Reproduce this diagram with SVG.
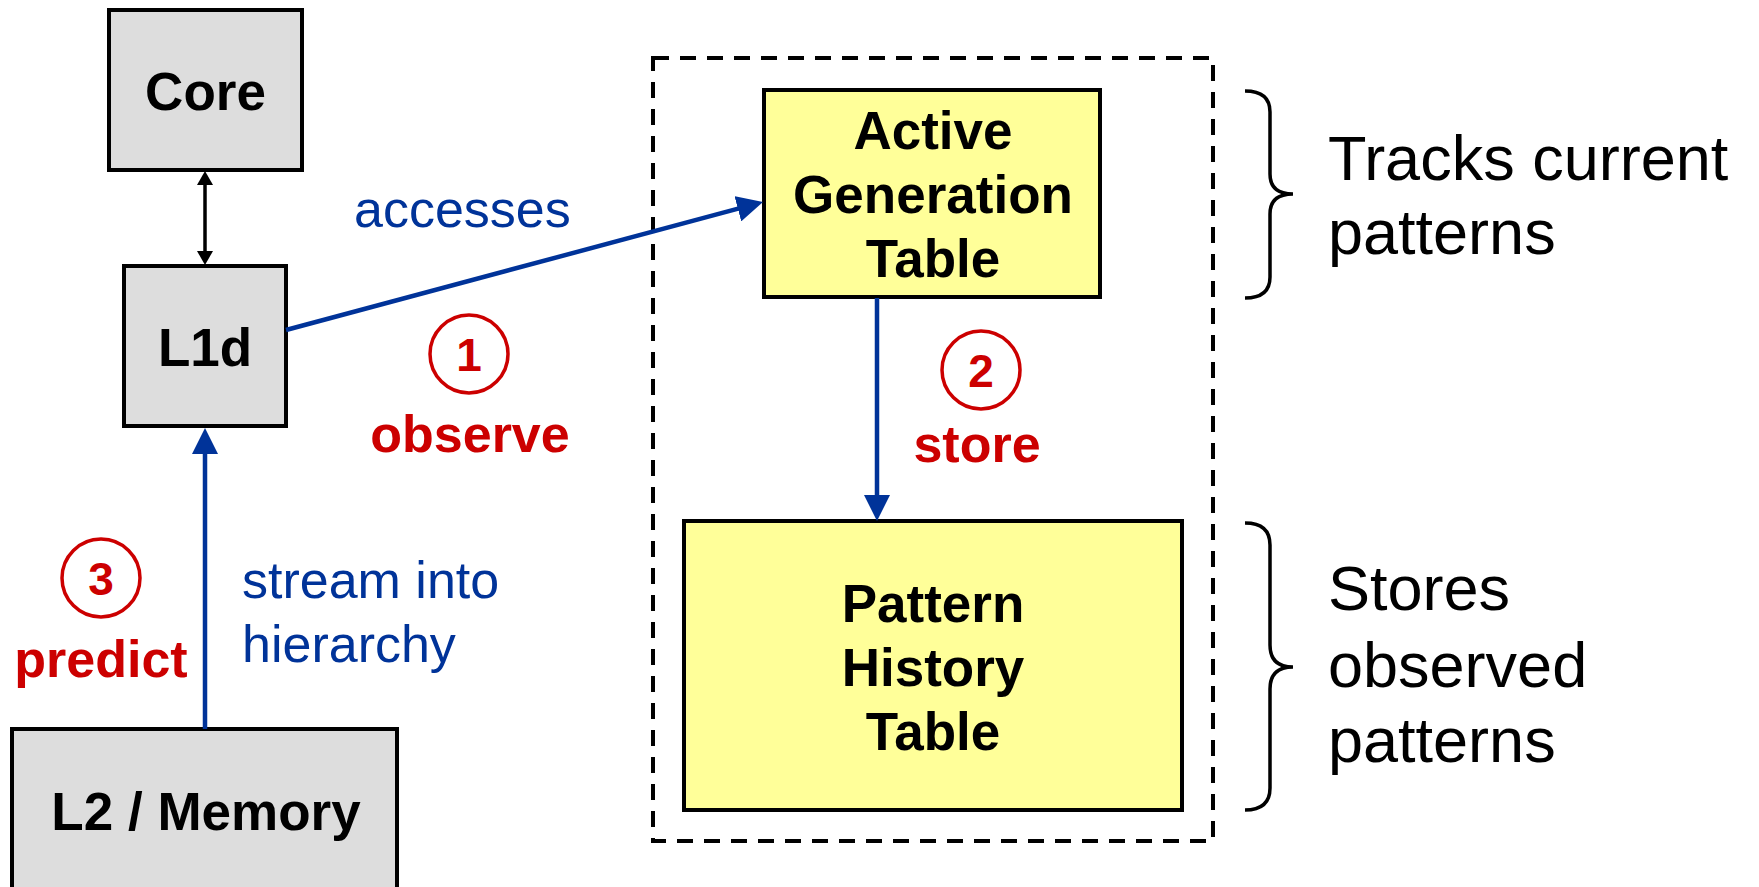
<svg xmlns="http://www.w3.org/2000/svg" width="1759" height="887" viewBox="0 0 1759 887">
  <style>
    .box { stroke: #000; stroke-width: 4; }
    .gray { fill: #dddddd; }
    .yellow { fill: #ffff99; }
    .label { font-family: "Liberation Sans", Arial, sans-serif; font-weight: bold; font-size: 53px; fill: #000; text-anchor: middle; }
    .blue-t { font-family: "Liberation Sans", Arial, sans-serif; font-size: 52px; fill: #003399; }
    .red-t { font-family: "Liberation Sans", Arial, sans-serif; font-weight: bold; font-size: 52px; fill: #cc0000; text-anchor: middle; }
    .num { font-family: "Liberation Sans", Arial, sans-serif; font-weight: bold; font-size: 46px; fill: #cc0000; text-anchor: middle; }
    .step { fill: none; stroke: #cc0000; stroke-width: 3.5; }
    .note { font-family: "Liberation Sans", Arial, sans-serif; font-size: 63px; fill: #000; }
    .brace { fill: none; stroke: #000; stroke-width: 3.5; }
    .flow { fill: none; stroke: #003399; stroke-width: 4.5; }
    .link { fill: none; stroke: #000; stroke-width: 3.5; }
  </style>
  <defs>
    <marker id="blueHead" markerUnits="userSpaceOnUse" markerWidth="26" markerHeight="26" refX="8" refY="13" orient="auto">
      <path d="M0,0 L26,13 L0,26 z" fill="#003399"/>
    </marker>
    <marker id="blackHead" markerUnits="userSpaceOnUse" markerWidth="14" markerHeight="16" refX="5" refY="8" orient="auto-start-reverse">
      <path d="M0,0 L14,8 L0,16 z" fill="#000"/>
    </marker>
  </defs>

  <rect width="1759" height="887" fill="#fff"/>

  <!-- prefetcher boundary -->
  <rect id="prefetcher" x="653" y="58" width="560" height="783" fill="none" stroke="#000" stroke-width="4" stroke-dasharray="16 11"/>

  <g id="core">
    <rect class="box gray" x="109" y="10" width="193" height="160"/>
    <text class="label" x="205.5" y="110">Core</text>
  </g>

  <g id="l1d">
    <rect class="box gray" x="124" y="266" width="162" height="160"/>
    <text class="label" x="205" y="366">L1d</text>
  </g>

  <g id="l2mem">
    <rect class="box gray" x="12" y="729" width="385" height="180"/>
    <text class="label" x="206" y="830">L2 / Memory</text>
  </g>

  <g id="agt">
    <rect class="box yellow" x="764" y="90" width="336" height="207"/>
    <text class="label" x="933" y="149">Active</text>
    <text class="label" x="933" y="213">Generation</text>
    <text class="label" x="933" y="277">Table</text>
  </g>

  <g id="pht">
    <rect class="box yellow" x="684" y="521" width="498" height="289"/>
    <text class="label" x="933" y="622">Pattern</text>
    <text class="label" x="933" y="686">History</text>
    <text class="label" x="933" y="750">Table</text>
  </g>

  <g id="connectors">
    <line class="link" x1="205" y1="180" x2="205" y2="256" marker-start="url(#blackHead)" marker-end="url(#blackHead)"/>
    <line class="flow" x1="286" y1="330" x2="745.6" y2="206.7" marker-end="url(#blueHead)"/>
    <line class="flow" x1="877" y1="298" x2="877" y2="503" marker-end="url(#blueHead)"/>
    <line class="flow" x1="205" y1="729" x2="205" y2="446" marker-end="url(#blueHead)"/>
  </g>

  <g id="labels">
    <text class="blue-t" x="354" y="227">accesses</text>
    <text class="blue-t" x="242" y="598">stream into</text>
    <text class="blue-t" x="242" y="662">hierarchy</text>

    <circle class="step" cx="469" cy="354" r="39"/>
    <text class="num" x="469" y="371">1</text>
    <text class="red-t" x="470" y="452">observe</text>

    <circle class="step" cx="981" cy="370" r="39"/>
    <text class="num" x="981" y="387">2</text>
    <text class="red-t" x="977" y="462">store</text>

    <circle class="step" cx="101" cy="578" r="39"/>
    <text class="num" x="101" y="595">3</text>
    <text class="red-t" x="101" y="677">predict</text>
  </g>

  <g id="notes">
    <path class="brace" d="M1245,91 Q1270,91 1270,112 L1270,174 Q1270,194 1293,194 Q1270,194 1270,214 L1270,277 Q1270,298 1245,298"/>
    <text class="note" x="1328" y="180">Tracks current</text>
    <text class="note" x="1328" y="254">patterns</text>

    <path class="brace" d="M1245,523 Q1270,523 1270,545 L1270,645 Q1270,667 1293,667 Q1270,667 1270,689 L1270,788 Q1270,810 1245,810"/>
    <text class="note" x="1328" y="610">Stores</text>
    <text class="note" x="1328" y="687">observed</text>
    <text class="note" x="1328" y="762">patterns</text>
  </g>
</svg>
